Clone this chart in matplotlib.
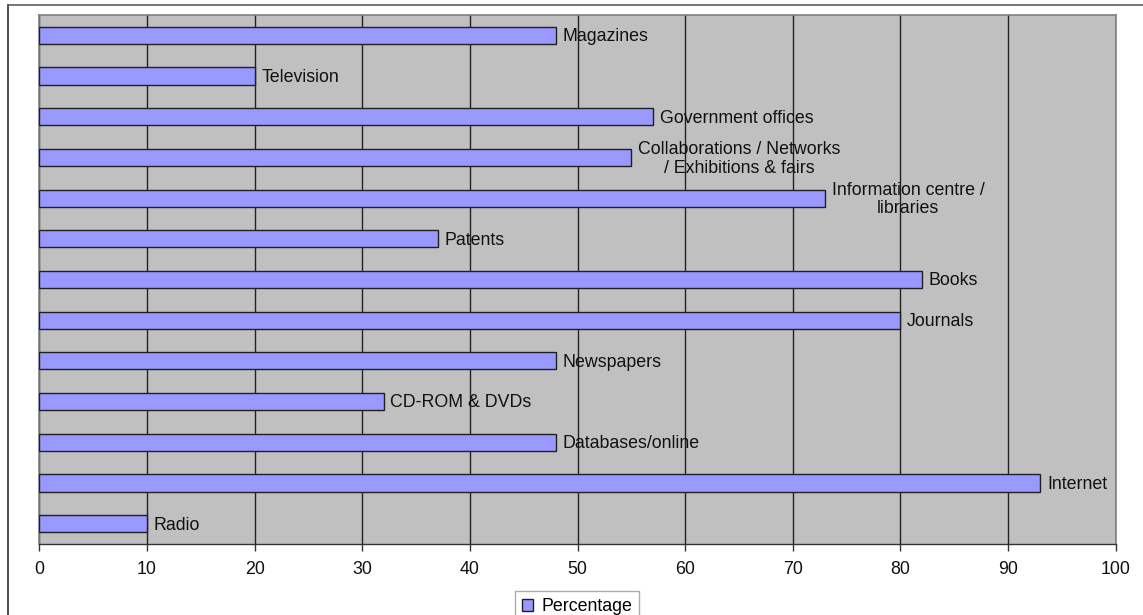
import matplotlib
matplotlib.use("Agg")
import matplotlib.pyplot as plt
from matplotlib.lines import Line2D
from matplotlib.patches import Patch

plt.rcParams['font.family'] = ['Liberation Sans', 'DejaVu Sans']

# Information sources, listed top to bottom
sources = [
    "Magazines",
    "Television",
    "Government offices",
    "Collaborations / Networks\n/ Exhibitions & fairs",
    "Information centre /\nlibraries",
    "Patents",
    "Books",
    "Journals",
    "Newspapers",
    "CD-ROM & DVDs",
    "Databases/online",
    "Internet",
    "Radio",
]
percentage = [48, 20, 57, 55, 73, 37, 82, 80, 48, 32, 48, 93, 10]
x_ticks = [0, 10, 20, 30, 40, 50, 60, 70, 80, 90, 100]

FS = 12.8
W, H = 1143, 615
fig = plt.figure(figsize=(W / 100, H / 100), dpi=100)
fig.patch.set_facecolor("white")

ax = fig.add_axes([39.3 / W, 71 / H, 1076.4 / W, 529 / H])
ax.set_facecolor("#c0c0c0")

ypos = list(range(len(sources)))
ax.barh(ypos, percentage, height=0.42, color="#9999ff",
        edgecolor="#202020", linewidth=1.0, zorder=3, label="Percentage")

# label to the right of each bar
for y, v, name in zip(ypos, percentage, sources):
    ax.annotate(name, xy=(v, y), xytext=(4.8, -1.0), textcoords="offset points",
                ha="left", va="center", multialignment="center",
                fontsize=FS, color="#111111", zorder=4, linespacing=1.15)

ax.set_xlim(0, 100)
ax.set_ylim(len(sources) - 0.5, -0.5)
ax.set_xticks(x_ticks)
ax.set_xticklabels([str(t) for t in x_ticks], fontsize=FS, color="#111111")
ax.set_yticks([])
ax.tick_params(axis="x", direction="out", length=5, width=1, color="#333333", pad=7.5)

ax.grid(axis="x", color="#222222", linewidth=1.0, zorder=1)
ax.set_axisbelow(True)

for side in ("top", "right", "left"):
    ax.spines[side].set_color("#808080")
    ax.spines[side].set_linewidth(1.2)
ax.spines["bottom"].set_color("#333333")
ax.spines["bottom"].set_linewidth(1.0)

# legend below the plot area
handle = Patch(facecolor="#9999ff", edgecolor="#202020", linewidth=1.0)
leg = fig.legend([handle], ["Percentage"], loc="upper center",
                 bbox_to_anchor=(577 / W, 1 - 591 / H), fontsize=FS,
                 frameon=True, fancybox=False, handlelength=0.65,
                 handleheight=0.65, handletextpad=0.45, borderpad=0.4,
                 borderaxespad=0)
leg.get_frame().set_edgecolor("#999999")
leg.get_frame().set_linewidth(1.0)

# outer frame lines (left and top)
fig.add_artist(Line2D([8 / W, 8 / W], [0, 1 - 5 / H], transform=fig.transFigure,
                      color="#303030", linewidth=1.2))
fig.add_artist(Line2D([8 / W, 1], [1 - 5 / H, 1 - 5 / H], transform=fig.transFigure,
                      color="#606060", linewidth=1.2))

fig.savefig("out.png", dpi=100, facecolor="white")
